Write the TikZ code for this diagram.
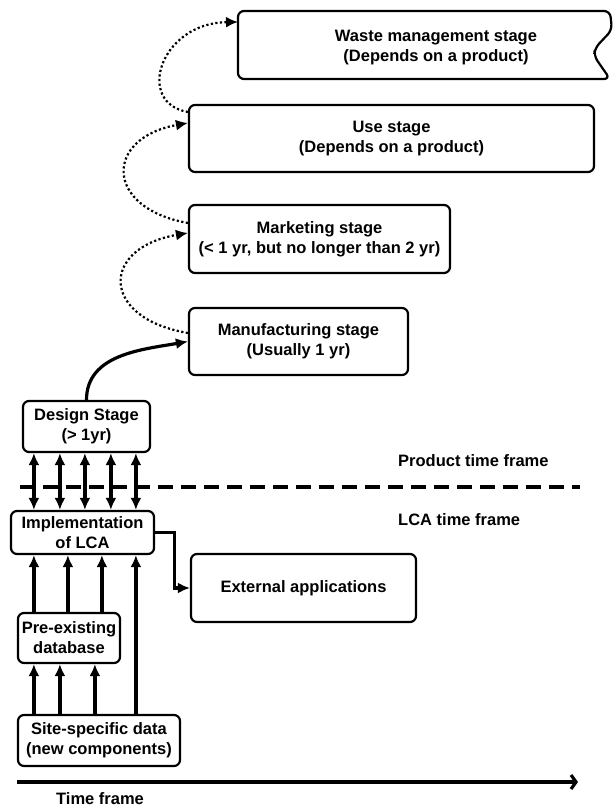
\documentclass[tikz,border=0pt]{standalone}
\usepackage{fontspec}
\setmainfont{Liberation Sans}
\usetikzlibrary{arrows.meta,positioning,calc}

\begin{document}
\begin{tikzpicture}[x=1pt, y=1pt, >={Latex[length=12pt,width=11pt]},
    block/.style={rectangle, draw, line width=2.2pt, rounded corners=6pt, align=center, inner sep=2pt, font=\fontsize{16.5}{20}\selectfont\bfseries},
    tag/.style={align=left, inner sep=0pt, font=\fontsize{16.5}{20}\selectfont\bfseries},
    line/.style={draw, ->, line width=3.2pt},
    dline/.style={draw, <->, line width=3.2pt},
    dotline/.style={draw, ->, line width=2.2pt, dash pattern=on 2.2pt off 2.4pt}]
    \useasboundingbox (0,0) rectangle (615,808);

    % Product stages
    \node [tag, align=center] (waste) at (436,760.5) {Waste management stage\\(Depends on a product)};
    \draw [line width=2.2pt, rounded corners=6pt] (238,763) |- (610,797) -- (612,778) -- (595,760) -- (594,752) -- (610,729) -| (238,763) -- cycle;
    \coordinate (wastein) at (238,786);
    \node [block, minimum width=405pt, minimum height=67pt] (use) at (391.5,669.5) {Use stage\\(Depends on a product)};
    \node [block, minimum width=261pt, minimum height=68pt] (market) at (319.5,569) {Marketing stage\\(< 1 yr, but no longer than 2 yr)};
    \node [block, minimum width=219pt, minimum height=67pt] (manuf) at (298.5,466.5) {Manufacturing stage\\(Usually 1 yr)};

    % LCA side
    \node [block, minimum width=127pt, minimum height=51pt] (design) at (86.5,381.5) {Design Stage\\(> 1yr)};
    \node [block, minimum width=143pt, minimum height=43pt] (impl) at (82.5,275.5) {Implementation\\of LCA};
    \node [block, minimum width=225pt, minimum height=68pt] (external) at (303.5,220) {External applications};
    \node [block, minimum width=102pt, minimum height=50pt] (preexist) at (69,170) {Pre-existing\\database};
    \node [block, minimum width=162pt, minimum height=51pt] (site) at (99,67.5) {Site-specific data\\(new components)};

    % Time frames
    \coordinate (dashstart) at (20,321);
    \coordinate (dashend) at (580,321);
    \draw [line width=3.2pt, dash pattern=on 15pt off 8pt] (dashstart) -- (dashend);
    \node [tag, anchor=west] (prodtf) at (398,347) {Product time frame};
    \node [tag, anchor=west] (lcatf) at (398,288) {LCA time frame};
    \coordinate (axisstart) at (17,26);
    \coordinate (axisend) at (578,26);
    \draw [-{Straight Barb[length=5pt,width=14pt]}, line width=3.2pt] (axisstart) -- (axisend);
    \node [tag] (timetf) at (100,9) {Time frame};

    % Paths
    \path [dotline] ([yshift=8.5pt]manuf.west) .. controls (100,490) and (100,560) .. ([yshift=6pt]market.west);
    \path [dotline] ([yshift=16pt]market.west) .. controls (104,600) and (104,670) .. ([yshift=15.5pt]use.west);
    \path [dotline] ([yshift=26.5pt]use.west) .. controls (135,705) and (160,785) .. (wastein);
    \path [line] (design.north) to [out=90, in=190] (manuf.west);
    \foreach \d in {12,38,63,89,114} {
        \path (design.south west) ++(\d,0) coordinate (p);
        \path [dline] (p) -- (p |- impl.north);
    }
    \foreach \d in {17,51,85} {
        \path (preexist.north west) ++(\d,0) coordinate (p);
        \path [line] (p) -- (p |- impl.south);
    }
    \path (site.north west) ++(119,0) coordinate (p);
    \path [line] (p) -- (p |- impl.south);
    \foreach \d in {17,43,78} {
        \path (site.north west) ++(\d,0) coordinate (p);
        \path [line] (p) -- (p |- preexist.south);
    }
    \path [line] (impl.east) -- ++(19,0) |- (external.west);

\end{tikzpicture}
\end{document}
